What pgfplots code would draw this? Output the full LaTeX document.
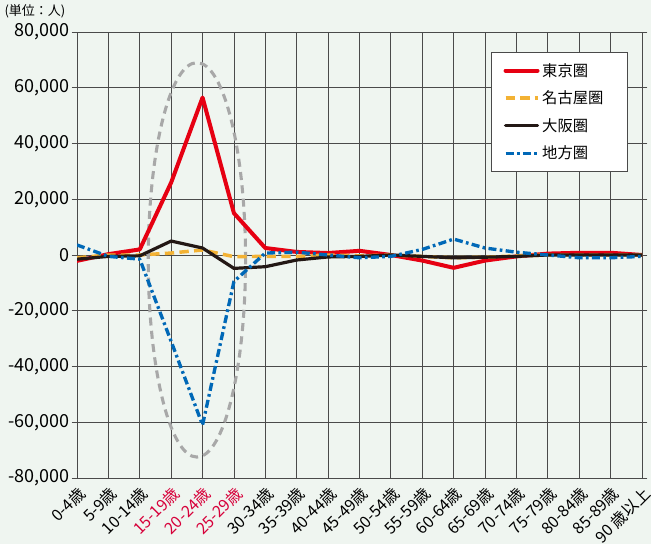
\documentclass[border=0pt]{standalone}
\usepackage{pgfplots}
\pgfplotsset{compat=1.18}
\usepackage{pgfplotstable}
\usepackage{fontspec}
\setmainfont{Noto Sans CJK JP}
\usetikzlibrary{backgrounds,calc}

\definecolor{bg}{HTML}{EFF5F0}
\definecolor{tkred}{HTML}{E60012}
\definecolor{ngorange}{HTML}{F3B234}
\definecolor{oskblack}{HTML}{231815}
\definecolor{lclblue}{HTML}{0068B7}
\definecolor{agered}{HTML}{D7003A}
\definecolor{gridgray}{HTML}{4A4A4A}
\definecolor{ringgray}{HTML}{A8A8A8}

% net migration by age group (persons)
\pgfplotstableread{
x  tokyo  nagoya  osaka  local
0  -2100  -1000   -1500   3600
1    300      0    -500   -500
2   2000      0    -300  -1500
3  26000    700    5000 -31000
4  56500   1800    2500 -61000
5  15000   -600   -4800  -9500
6   2500   -500   -4200    700
7   1100   -500   -1800   1000
8    700      0    -700      0
9   1500   -300    -500  -1000
10     0      0       0   -500
11 -2000   -500    -500   2000
12 -4600  -1000   -1000   5700
13 -2000   -800    -800   2500
14  -500   -300    -500   1000
15   500      0       0      0
16   800      0       0  -1000
17   800      0       0  -1000
18     0      0       0   -500
}\migr

\begin{document}
\begin{tikzpicture}[show background rectangle, inner frame sep=0pt,
  background rectangle/.style={fill=bg, draw=none}]
\begin{axis}[
  name=ax,
  scale only axis,
  width=423.75pt, height=334.5pt,
  xmin=0, xmax=18,
  ymin=-80000, ymax=80000,
  xtick={0,...,18},
  xticklabels={0-4歳, 5-9歳, 10-14歳,
    \textcolor{agered}{15-19歳}, \textcolor{agered}{20-24歳}, \textcolor{agered}{25-29歳},
    30-34歳, 35-39歳, 40-44歳, 45-49歳, 50-54歳, 55-59歳, 60-64歳,
    65-69歳, 70-74歳, 75-79歳, 80-84歳, 85-89歳, 90 歳以上},
  ytick={-80000,-60000,...,80000},
  scaled y ticks=false,
  grid=major,
  major grid style={gridgray, line width=0.6pt},
  axis line style={gridgray, line width=0.6pt},
  tick style={gridgray, line width=0.6pt},
  tick align=outside,
  major tick length=4pt,
  xtick style={draw=none},
  y tick label style={font=\fontsize{13.5}{15}\selectfont, inner sep=1.5pt,
    /pgf/number format/.cd, fixed, 1000 sep={,}, assume math mode=true},
  x tick label style={rotate=45, anchor=north east, inner sep=1pt,
    font=\fontsize{12}{14}\selectfont},
  legend style={at={(0.733,0.955)}, anchor=north west, fill=white,
    draw=gridgray, line width=0.6pt, font=\fontsize{11.5}{13}\selectfont,
    inner xsep=9pt, inner ysep=6pt, row sep=5.5pt,
    /tikz/every even column/.append style={column sep=7pt}},
  legend cell align=left,
  legend image code/.code={\draw[#1] (0pt,0pt) -- (24pt,0pt);},
  every axis plot/.append style={line join=round, line cap=round},
]
% ring round the 15-29 group
\draw[ringgray, line width=2.3pt, dash pattern=on 6pt off 4pt]
  (axis cs:3.82,-1750) ellipse [x radius=1.55, y radius=70750];

\addplot[tkred, line width=3pt] table[x=x, y=tokyo] {\migr};
\addplot[ngorange, line width=2.6pt, line cap=butt, dash pattern=on 7pt off 4pt] table[x=x, y=nagoya] {\migr};
\addplot[oskblack, line width=2.4pt] table[x=x, y=osaka] {\migr};
\addplot[lclblue, line width=2.5pt, line cap=butt, dash pattern=on 6pt off 2.5pt on 2pt off 2.5pt] table[x=x, y=local] {\migr};
\legend{東京圏, 名古屋圏\hspace*{7pt}, 大阪圏, 地方圏}
\end{axis}
\node[anchor=north west, inner sep=0pt, font=\fontsize{9.75}{11}\selectfont]
  at ($(ax.north west)+(-54.5pt,21pt)$) {(単位：人)};
\pgfresetboundingbox
\path[use as bounding box] ($(ax.south west)+(-57.75pt,-49.5pt)$) rectangle ($(ax.north east)+(6.75pt,24pt)$);
\end{tikzpicture}
\end{document}
